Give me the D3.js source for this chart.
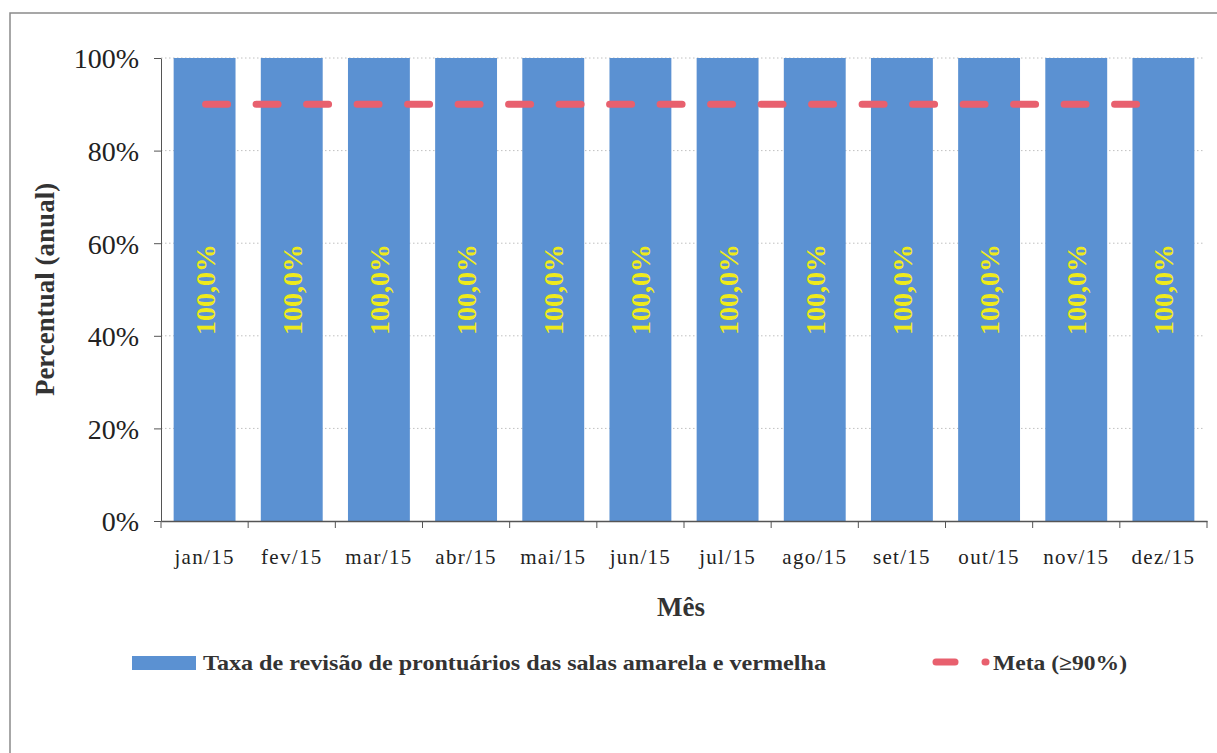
<!DOCTYPE html>
<html>
<head>
<meta charset="utf-8">
<script src="https://cdn.jsdelivr.net/npm/d3@7"></script>
<style>
  body { margin: 0; background: #fff; }
  text { font-family: "Liberation Serif", "Times New Roman", Times, "Nimbus Roman", "DejaVu Serif", serif; }
</style>
</head>
<body>
<div id="chart"></div>
<script>
// Chart data
var months = ["jan/15", "fev/15", "mar/15", "abr/15", "mai/15", "jun/15",
              "jul/15", "ago/15", "set/15", "out/15", "nov/15", "dez/15"];
var taxa = [100, 100, 100, 100, 100, 100, 100, 100, 100, 100, 100, 100];
var meta = [90, 90, 90, 90, 90, 90, 90, 90, 90, 90, 90, 90];
var yTicks = [0, 20, 40, 60, 80, 100];
var seriesNames = ["Taxa de revisão de prontuários das salas amarela e vermelha", "Meta (≥90%)"];

var W = 1217, H = 753;
var margin = {top: 58, right: 10, bottom: 232, left: 161};
var width = 1207 - margin.left,
    height = 521 - margin.top;
var serif = "'Liberation Serif', 'Times New Roman', Times, 'DejaVu Serif', serif";

var svg = d3.select("#chart")
  .append("svg")
  .attr("width", W)
  .attr("height", H);

// outer frame (scanned page border)
svg.append("rect")
  .attr("x", 10).attr("y", 13)
  .attr("width", W + 20).attr("height", H + 20)
  .attr("fill", "none")
  .attr("stroke", "#8a8a8a")
  .attr("stroke-width", 1.5);

var g = svg.append("g")
  .attr("transform", "translate(" + margin.left + "," + margin.top + ")");

var x = d3.scaleBand()
  .domain(months)
  .range([0, width])
  .paddingInner(0.29)
  .paddingOuter(0.145);

var y = d3.scaleLinear()
  .domain([0, 100])
  .range([height, 0]);

// dotted grid lines
g.append("g")
  .selectAll("line")
  .data(yTicks.filter(function(d) { return d > 0; }))
  .enter()
  .append("line")
  .attr("x1", 0).attr("x2", width - 4)
  .attr("y1", function(d) { return y(d); })
  .attr("y2", function(d) { return y(d); })
  .attr("stroke", "#c0c0c0")
  .attr("stroke-width", 1)
  .attr("stroke-dasharray", "1.5,2.5");

// bars
g.selectAll(".bar")
  .data(taxa)
  .enter()
  .append("rect")
  .attr("class", "bar")
  .attr("x", function(d, i) { return x(months[i]); })
  .attr("y", function(d) { return y(d); })
  .attr("width", x.bandwidth())
  .attr("height", function(d) { return y(0) - y(d); })
  .attr("fill", "#5b91d2");

// data labels (rotated)
g.selectAll(".lbl")
  .data(taxa)
  .enter()
  .append("text")
  .attr("class", "lbl")
  .attr("transform", function(d, i) {
    return "translate(" + (x(months[i]) + x.bandwidth() / 2 + 10) + "," + y(d / 2) + ") rotate(-90)";
  })
  .style("text-anchor", "middle")
  .style("font-size", "28px")
  .style("font-weight", "bold")
  .attr("fill", "#eeea1c")
  .text(function(d) { return d3.format(".1f")(d).replace(".", ",") + "%"; });

// meta line
var line = d3.line()
  .x(function(d, i) { return x(months[i]) + x.bandwidth() / 2; })
  .y(function(d) { return y(d); });

g.append("path")
  .datum(meta)
  .attr("d", line)
  .attr("fill", "none")
  .attr("stroke", "#e8606e")
  .attr("stroke-width", 7)
  .attr("stroke-linecap", "round")
  .attr("stroke-dasharray", "22,28.5")
  .attr("stroke-dashoffset", -1);

// Y axis
var yAxis = g.append("g")
  .call(d3.axisLeft(y).tickValues(yTicks).tickSize(7).tickSizeOuter(0)
    .tickFormat(function(d) { return d + "%"; }));
yAxis.select(".domain").attr("stroke", "#555");
yAxis.selectAll(".tick line").attr("stroke", "#555");
yAxis.selectAll("text")
  .attr("x", -22)
  .attr("dy", "0.35em")
  .style("font-size", "28px")
  .style("font-family", serif)
  .attr("fill", "#222");

// X axis
var xAxis = g.append("g")
  .attr("transform", "translate(0," + height + ")")
  .call(d3.axisBottom(x).tickSize(0).tickSizeOuter(0));
xAxis.select(".domain").attr("stroke", "#555").attr("stroke-width", 1.5);
xAxis.selectAll("text")
  .attr("y", 28)
  .style("font-size", "21px")
  .style("letter-spacing", "1.3px")
  .style("font-family", serif)
  .attr("fill", "#222");

// boundary ticks between categories
var step = x.step();
var edges = d3.range(months.length + 1).map(function(i) {
  return i === 0 ? 0 : (i === months.length ? width : x(months[i - 1]) + x.bandwidth() + (step - x.bandwidth()) / 2);
});
xAxis.selectAll(".edge")
  .data(edges)
  .enter()
  .append("line")
  .attr("x1", function(d) { return d; })
  .attr("x2", function(d) { return d; })
  .attr("y1", 0).attr("y2", 7)
  .attr("stroke", "#555");

// axis titles
svg.append("text")
  .attr("transform", "translate(54," + (margin.top + height / 2) + ") rotate(-90)")
  .style("text-anchor", "middle")
  .style("font-size", "27px")
  .style("font-weight", "bold")
  .attr("fill", "#333")
  .text("Percentual (anual)");

svg.append("text")
  .attr("x", margin.left + width / 2 - 3)
  .attr("y", 616)
  .style("text-anchor", "middle")
  .style("font-size", "27px")
  .style("font-weight", "bold")
  .attr("fill", "#333")
  .text("Mês");

// legend
var leg = svg.append("g").attr("transform", "translate(0,663)");
leg.append("rect")
  .attr("x", 132).attr("y", -7)
  .attr("width", 64).attr("height", 14)
  .attr("fill", "#5b91d2");
leg.append("text")
  .attr("x", 203).attr("y", 7)
  .attr("textLength", 623)
  .attr("lengthAdjust", "spacingAndGlyphs")
  .style("font-size", "21px")
  .style("font-weight", "bold")
  .attr("fill", "#333")
  .text(seriesNames[0]);

leg.append("line")
  .attr("x1", 936).attr("x2", 955)
  .attr("y1", -1).attr("y2", -1)
  .attr("stroke", "#e8606e")
  .attr("stroke-width", 7)
  .attr("stroke-linecap", "round");
leg.append("line")
  .attr("x1", 985).attr("x2", 986)
  .attr("y1", -1).attr("y2", -1)
  .attr("stroke", "#e8606e")
  .attr("stroke-width", 7)
  .attr("stroke-linecap", "round");
leg.append("text")
  .attr("x", 993).attr("y", 7)
  .attr("textLength", 134)
  .attr("lengthAdjust", "spacingAndGlyphs")
  .style("font-size", "21px")
  .style("font-weight", "bold")
  .attr("fill", "#333")
  .text(seriesNames[1]);
</script>
</body>
</html>
